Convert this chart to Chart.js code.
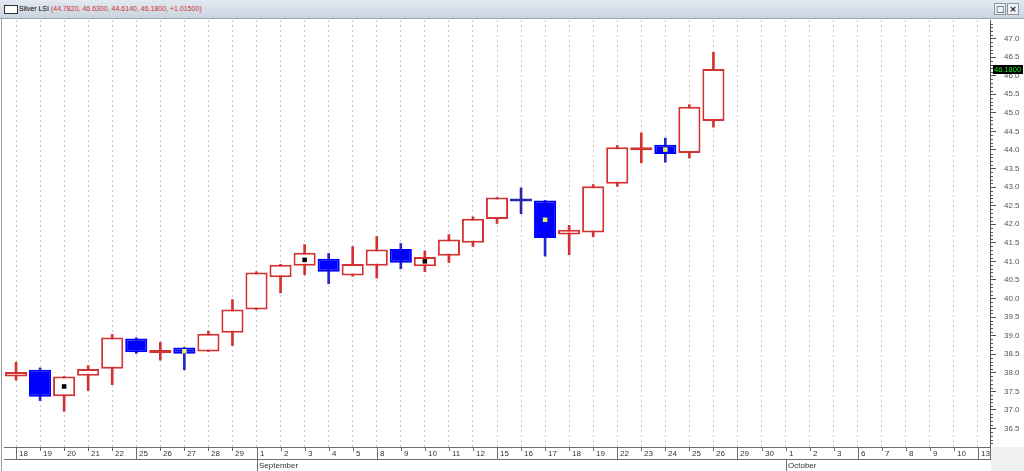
<!DOCTYPE html>
<html>
<head>
<meta charset="utf-8">
<script src="https://cdn.jsdelivr.net/npm/chart.js@4.4.1/dist/chart.umd.min.js"></script>
<style>
  html, body { margin: 0; padding: 0; background: #fff; overflow: hidden; }
  #wrap { position: relative; width: 1024px; height: 471px; }
  #bar {
    position: absolute; left: 0; top: 0; width: 1024px; height: 18px;
    background: linear-gradient(#e2e9f1, #cad4df);
    border-bottom: 1px solid #98a3b0;
    font: 7px 'Liberation Sans', Arial, sans-serif; color: #000;
  }
  #bar .icon { position: absolute; left: 4px; top: 5px; width: 12px; height: 7px; background: #fff; border: 1px solid #333; }
  #bar .name { position: absolute; left: 19px; top: 5px; white-space: nowrap; }
  #bar .name span { color: #d03030; }
  #bar .btn { position: absolute; top: 3px; width: 10px; height: 10px; border: 1px solid #8a96a4; background: #eef2f6;
    font: bold 9px 'DejaVu Sans', sans-serif; line-height: 10px; text-align: center; color: #222; }
  canvas { position: absolute; left: 0; top: 0; }
</style>
</head>
<body>
<div id="wrap">
  <canvas id="chart" width="1024" height="471"></canvas>
  <div id="bar">
    <div class="icon"></div>
    <div class="name">Silver LSI <span>(44.7820, 46.6300, 44.6140, 46.1800, +1.01500)</span></div>
    <div class="btn" style="left:994px">□</div>
    <div class="btn" style="left:1007px">×</div>
  </div>
</div>
<script>
// trading days shown on the axis (Aug 18 - Oct 13)
var dayLabels = ['18','19','20','21','22','25','26','27','28','29',
                 '1','2','3','4','5','8','9','10','11','12','15','16','17','18','19',
                 '22','23','24','25','26','29','30',
                 '1','2','3','6','7','8','9','10','13'];
var weekStarts = [0, 5, 10, 15, 20, 25, 30, 35, 40];
var monthNames = ['September', 'October'];
var monthStarts = [10, 32];

// daily prices, Aug 18 .. Sep 26
var openValues  = [37.90, 38.08, 37.37, 37.92, 38.11, 38.92, 38.53, 38.68, 38.57, 39.08,
                   39.70, 40.57, 40.88, 41.07, 40.62, 40.88, 41.33, 40.87, 41.15, 41.50,
                   42.14, 42.63, 42.64, 41.72, 41.78, 43.09, 43.99, 44.14, 43.92, 44.782];
var highValues  = [38.28, 38.13, 37.90, 38.19, 39.03, 38.94, 38.82, 38.68, 39.12, 39.97,
                   40.72, 40.92, 41.45, 41.21, 41.40, 41.67, 41.48, 41.28, 41.72, 42.20,
                   42.72, 42.98, 42.64, 41.97, 43.07, 44.12, 44.46, 44.32, 45.22, 46.63];
var lowValues   = [37.80, 37.25, 36.96, 37.52, 37.68, 38.52, 38.34, 38.08, 38.57, 38.73,
                   39.70, 40.15, 40.64, 40.40, 40.60, 40.55, 40.80, 40.72, 40.97, 41.40,
                   42.02, 42.28, 41.14, 41.18, 41.66, 43.02, 43.65, 43.67, 43.78, 44.614];
var closeValues = [38.02, 37.35, 37.90, 38.10, 38.95, 38.55, 38.60, 38.51, 39.05, 39.70,
                   40.70, 40.91, 41.23, 40.72, 40.93, 41.32, 40.96, 41.12, 41.59, 42.15,
                   42.72, 42.61, 41.63, 41.85, 43.02, 44.07, 44.07, 43.89, 45.165, 46.18];

// small square markers inside some bodies
var markerValues = [null, null, 37.63, null, null, null, null, 38.58, null, null,
                    null, null, 41.04, null, null, null, null, 41.00, null, null,
                    null, null, 42.12, null, null, null, null, 44.01, null, null];

var yTickValues = [36.5, 37.0, 37.5, 38.0, 38.5, 39.0, 39.5, 40.0, 40.5, 41.0, 41.5,
                   42.0, 42.5, 43.0, 43.5, 44.0, 44.5, 45.0, 45.5, 46.0, 46.5, 47.0];

var RED = '#d43232';
var BLUE = '#0000ff';
var FONT = "'Liberation Sans', Arial, sans-serif";

var isUp = closeValues.map(function (c, i) { return c >= openValues[i]; });
// near-flat day drawn as a dark blue cross
var isDoji = closeValues.map(function (c, i) { return Math.abs(c - openValues[i]) < 0.03 && c < openValues[i]; });

// draws the date rows, minor price ticks, frame and the last-price box
var axisPainter = {
  id: 'axisPainter',
  afterDraw: function (chart) {
    var ctx = chart.ctx, a = chart.chartArea, xs = chart.scales.x, ys = chart.scales.y;
    ctx.save();

    // minor ticks every 0.1
    ctx.strokeStyle = '#555';
    ctx.lineWidth = 1;
    ctx.beginPath();
    for (var k = 1; k < 115; k++) {
      if (k % 5 === 0) continue;
      var py = Math.round(ys.getPixelForValue(36 + k * 0.1)) + 0.5;
      ctx.moveTo(a.right, py);
      ctx.lineTo(a.right + 3, py);
    }
    ctx.stroke();

    // date rows
    var top = a.bottom, mid = a.bottom + 12, bot = chart.height;
    ctx.fillStyle = '#f0f0f0';
    ctx.fillRect(a.right + 1, top, chart.width - a.right, bot - top);
    ctx.strokeStyle = '#6e6e6e';
    ctx.beginPath();
    ctx.moveTo(a.left, top + 0.5); ctx.lineTo(a.right + 1, top + 0.5);
    ctx.moveTo(a.left, mid + 0.5); ctx.lineTo(a.right + 1, mid + 0.5);
    ctx.moveTo(a.right + 0.5, top); ctx.lineTo(a.right + 0.5, mid);
    for (var i = 0; i < dayLabels.length; i++) {
      var px = Math.round(xs.getPixelForValue(i)) + 0.5;
      ctx.moveTo(px, top);
      ctx.lineTo(px, weekStarts.indexOf(i) >= 0 ? mid : top + 4);
    }
    for (var m = 0; m < monthStarts.length; m++) {
      var mx = Math.round(xs.getPixelForValue(monthStarts[m])) + 0.5;
      ctx.moveTo(mx, mid); ctx.lineTo(mx, bot);
    }
    ctx.stroke();

    ctx.fillStyle = '#333';
    ctx.font = '8px ' + FONT;
    ctx.textAlign = 'left';
    ctx.textBaseline = 'middle';
    for (i = 0; i < dayLabels.length; i++) {
      ctx.fillText(dayLabels[i], Math.round(xs.getPixelForValue(i)) + 3, top + 7);
    }
    for (m = 0; m < monthStarts.length; m++) {
      ctx.fillText(monthNames[m], Math.round(xs.getPixelForValue(monthStarts[m])) + 2, mid + 6.5);
    }

    // left frame
    ctx.strokeStyle = '#9a9a9a';
    ctx.beginPath();
    ctx.moveTo(1.5, 18); ctx.lineTo(1.5, bot);
    ctx.stroke();

    // last price box
    var last = closeValues[closeValues.length - 1];
    var ly = Math.round(ys.getPixelForValue(last));
    ctx.fillStyle = '#000';
    ctx.fillRect(a.right + 3, ly - 4, 30, 9);
    ctx.fillStyle = '#19e619';
    ctx.font = '7.5px ' + FONT;
    ctx.fillText(last.toFixed(4), a.right + 4, ly + 0.5);

    ctx.restore();
  }
};

new Chart(document.getElementById('chart'), {
  data: {
    labels: dayLabels,
    datasets: [
      {
        type: 'line',
        data: markerValues,
        showLine: false,
        pointStyle: 'rect',
        pointRadius: 3.2,
        pointBorderWidth: 0,
        pointBackgroundColor: isUp.map(function (u) { return u ? '#000' : '#e6f064'; }),
        order: 0
      },
      {
        type: 'bar',
        data: openValues.map(function (o, i) { return [o, closeValues[i]]; }),
        backgroundColor: isUp.map(function (u, i) { return u ? '#fff' : (isDoji[i] ? '#2a2aa8' : BLUE); }),
        borderColor: isUp.map(function (u, i) { return u ? RED : (isDoji[i] ? '#2a2aa8' : BLUE); }),
        borderWidth: 2,
        borderSkipped: false,
        minBarLength: 3,
        barPercentage: 0.92,
        categoryPercentage: 1,
        grouped: false,
        order: 1
      },
      {
        type: 'bar',
        data: lowValues.map(function (l, i) { return [l, highValues[i]]; }),
        backgroundColor: isUp.map(function (u, i) { return u ? RED : (isDoji[i] ? '#2a2aa8' : '#2626c8'); }),
        barThickness: 2,
        grouped: false,
        order: 2
      }
    ]
  },
  options: {
    responsive: false,
    animation: false,
    layout: { padding: { top: 20, left: 2, right: 0, bottom: 0 } },
    plugins: { legend: { display: false }, tooltip: { enabled: false } },
    scales: {
      x: {
        type: 'category',
        offset: true,
        grid: { offset: false, color: '#c8c8c8', lineWidth: 1, drawTicks: false },
        border: { display: false, dash: [2, 3] },
        ticks: { display: false },
        afterFit: function (s) { s.height = 24; }
      },
      y: {
        position: 'right',
        min: 36.0,
        max: 47.5,
        afterBuildTicks: function (s) { s.ticks = yTickValues.map(function (v) { return { value: v }; }); },
        grid: { drawOnChartArea: false, drawTicks: true, tickLength: 6, tickColor: '#555' },
        border: { display: true, color: '#555' },
        ticks: {
          padding: 8,
          color: '#555',
          font: { family: FONT, size: 8 },
          callback: function (v) { return Number(v).toFixed(1); }
        },
        afterFit: function (s) { s.width = 34; }
      }
    }
  },
  plugins: [axisPainter]
});
</script>
</body>
</html>
